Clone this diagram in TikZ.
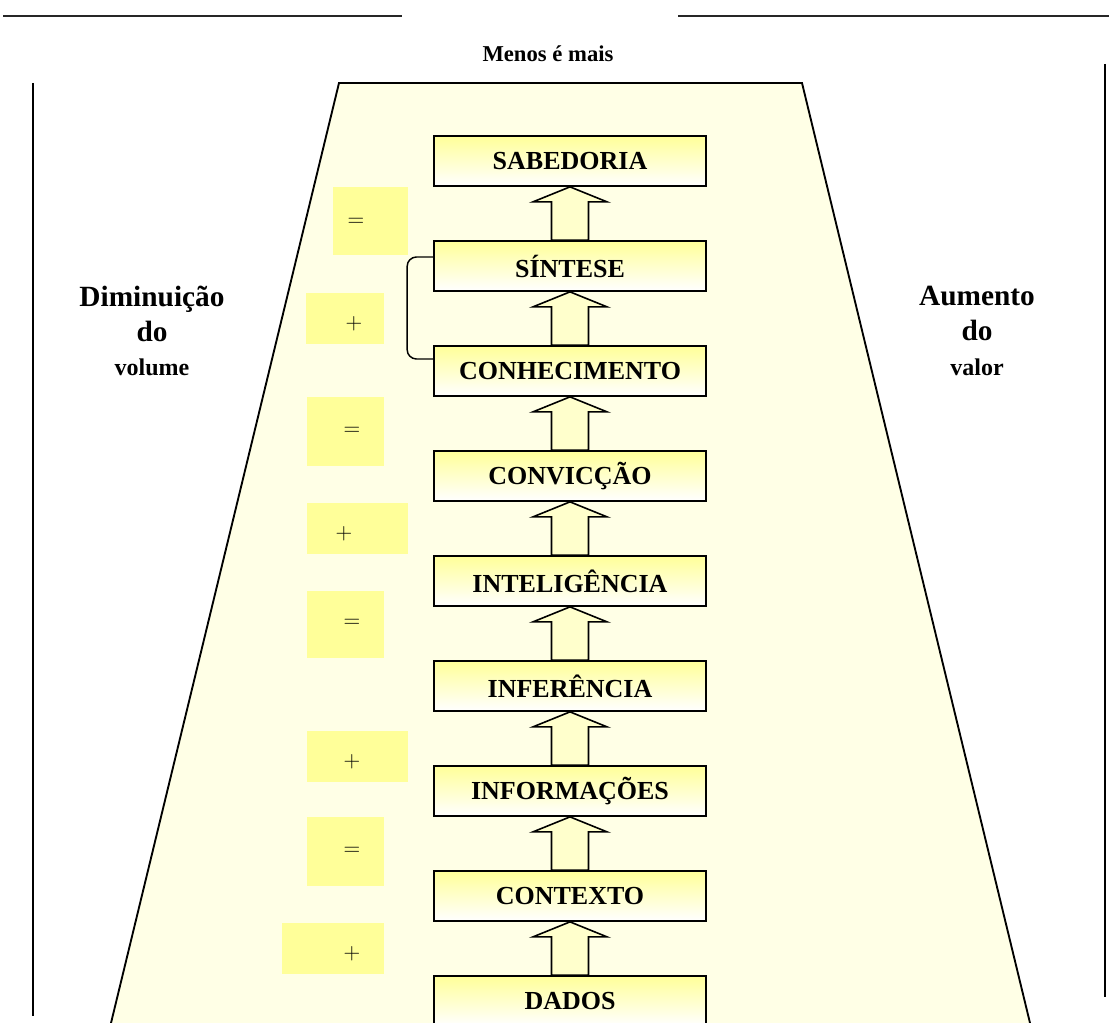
\documentclass[tikz,border=0pt]{standalone}
\usepackage{fontspec}
\setmainfont{Liberation Serif}
\usepackage{tikz}
\usepackage{xcolor}
\usetikzlibrary{calc}

\definecolor{fundo}{HTML}{FFFFE6}
\definecolor{amarelo}{HTML}{FFFF99}
\definecolor{seta}{HTML}{FFFFCC}

\tikzset{
  nivel/.style={draw, line width=1.3pt, top color=amarelo, bottom color=white,
    minimum width=204pt, minimum height=37.5pt, inner sep=0pt,
    font=\bfseries\fontsize{19.5}{22}\selectfont},
  setacima/.style={draw, line width=1.2pt, fill=seta},
  sinal/.style={font=\fontsize{17}{19}\selectfont, text=black},
  lado/.style={align=center, font=\bfseries\fontsize{22}{26}\selectfont}
}

\begin{document}
\begin{tikzpicture}[x=0.75pt, y=-0.75pt]
		\useasboundingbox (0,0) rectangle (1109,1023);
		% titulo e linhas
		\draw[line width=1.8pt, black!85] (3,16) -- (402,16);
		\draw[line width=1.8pt, black!85] (678,16) -- (1109,16);
		\node[font=\bfseries\fontsize{17}{20}\selectfont] (titulo) at (548,54) {Menos é mais};
		\draw[line width=1.4pt] (33,83) -- (33,1016);
		\draw[line width=1.4pt] (1105,64) -- (1105,997);
		% trapezio
		\fill[fundo] (111,1023) -- (339,83) -- (802,83) -- (1030,1023) -- cycle;
		\draw[line width=1.4pt] (111,1023) -- (339,83) -- (802,83) -- (1030,1023);
		% sinais
		\foreach \xa/\ya/\xb/\yb/\sx/\sy/\sg [count=\k] in {333/187/408/255/356/222/=, 306/293/384/344/354/324/+, 307/397/384/466/352/431/=, 307/503/408/554/344/534/+, 307/591/384/658/352/623/=, 307/731/408/782/352/762/+, 307/817/384/886/352/851/=, 282/923/384/974/352/954/+}
		{
			\fill[amarelo] (\xa,\ya) rectangle (\xb,\yb);
			\node[sinal] (sinal\k) at (\sx,\sy) {$\sg$};
		}
		% niveis
		\foreach \nome/\texto [count=\i from 0] in {sabedoria/SABEDORIA, sintese/SÍNTESE, conhecimento/CONHECIMENTO, conviccao/CONVICÇÃO, inteligencia/INTELIGÊNCIA, inferencia/INFERÊNCIA, informacoes/INFORMAÇÕES, contexto/CONTEXTO, dados/DADOS}
			\node[nivel] (\nome) at (570,161+105*\i) {\texto};
		\foreach \baixo/\cima in {sintese/sabedoria, conhecimento/sintese, conviccao/conhecimento, inteligencia/conviccao, inferencia/inteligencia, informacoes/inferencia, contexto/informacoes, dados/contexto}
			\draw[setacima] ($(\baixo.north)+(-18.5,0)$) -- ($(\cima.south)+(-18.5,15)$) -- ($(\cima.south)+(-37,15)$) -- (\cima.south) -- ($(\cima.south)+(37,15)$) -- ($(\cima.south)+(18.5,15)$) -- ($(\baixo.north)+(18.5,0)$) -- cycle;
		\draw[line width=1.1pt, rounded corners=7pt] ($(sintese.west)+(0,-9)$) -- ++(-26,0) |- ($(conhecimento.west)+(0,-12)$);
		% textos laterais
		\node[lado] (diminuicao) at (152,331) {Diminuição\\do\\{\fontsize{18}{20}\selectfont volume}};
		\node[lado] (aumento) at (977,331) {Aumento\\do\\{\fontsize{18}{20}\selectfont valor}};
	\end{tikzpicture}
\end{document}
